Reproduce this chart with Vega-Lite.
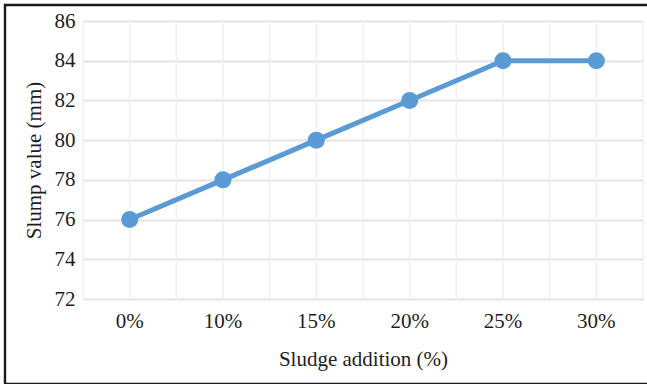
{
  "$schema": "https://vega.github.io/schema/vega-lite/v6.json",
  "autosize": {"type": "none"},
  "padding": {"left": 5, "top": 5, "right": 0, "bottom": 0},
  "width": 645,
  "height": 379,
  "background": "white",
  "config": {
    "view": {"stroke": "#1a1a1a", "strokeWidth": 2.4},
    "font": "Liberation Serif",
    "axis": {
      "labelFont": "Liberation Serif",
      "titleFont": "Liberation Serif",
      "labelFontSize": 21,
      "titleFontSize": 21,
      "titleFontWeight": "normal",
      "labelColor": "#1e1e1e",
      "titleColor": "#1e1e1e",
      "domain": false,
      "ticks": false
    }
  },
  "data": {
    "values": [
      {"sludge": "0%", "slump": 76},
      {"sludge": "10%", "slump": 78},
      {"sludge": "15%", "slump": 80},
      {"sludge": "20%", "slump": 82},
      {"sludge": "25%", "slump": 84},
      {"sludge": "30%", "slump": 84}
    ]
  },
  "encoding": {
    "x": {
      "field": "sludge",
      "type": "ordinal",
      "sort": null,
      "scale": {"range": [78, 638], "paddingInner": 0, "paddingOuter": 0},
      "axis": {
        "title": "Sludge addition (%)",
        "orient": "bottom",
        "offset": -85,
        "labelAngle": 0,
        "labelPadding": 11,
        "titlePadding": 17,
        "grid": false
      }
    }
  },
  "layer": [
    {
      "mark": {"type": "rule", "color": "#f0f0f0", "strokeWidth": 1.5},
      "encoding": {
        "x": {"field": "sludge", "type": "ordinal", "sort": null, "bandPosition": 0},
        "y": {"datum": 72, "type": "quantitative"},
        "y2": {"datum": 86}
      }
    },
    {
      "mark": {"type": "rule", "color": "#f0f0f0", "strokeWidth": 1.5},
      "encoding": {
        "x": {"field": "sludge", "type": "ordinal", "sort": null, "bandPosition": 0.5},
        "y": {"datum": 72, "type": "quantitative"},
        "y2": {"datum": 86}
      }
    },
    {
      "transform": [{"filter": "datum.sludge === '30%'"}],
      "mark": {"type": "rule", "color": "#f0f0f0", "strokeWidth": 1.5},
      "encoding": {
        "x": {"field": "sludge", "type": "ordinal", "sort": null, "bandPosition": 1},
        "y": {"datum": 72, "type": "quantitative"},
        "y2": {"datum": 86}
      }
    },
    {
      "mark": {"type": "line", "color": "#5b9bd5", "strokeWidth": 5},
      "encoding": {
        "x": {"field": "sludge", "type": "ordinal", "sort": null, "bandPosition": 0.5},
        "y": {
          "field": "slump",
          "type": "quantitative",
          "scale": {"domain": [72, 86], "range": [294, 16], "zero": false, "nice": false},
          "axis": {
            "title": "Slump value (mm)",
            "orient": "left",
            "offset": -78,
            "values": [72, 74, 76, 78, 80, 82, 84, 86],
            "labelPadding": 8,
            "titlePadding": 10,
            "grid": true,
            "gridColor": "#e3e3e3",
            "gridWidth": 2
          }
        }
      }
    },
    {
      "mark": {"type": "circle", "color": "#5b9bd5", "size": 290, "opacity": 1},
      "encoding": {
        "x": {"field": "sludge", "type": "ordinal", "sort": null, "bandPosition": 0.5},
        "y": {"field": "slump", "type": "quantitative"}
      }
    }
  ]
}
